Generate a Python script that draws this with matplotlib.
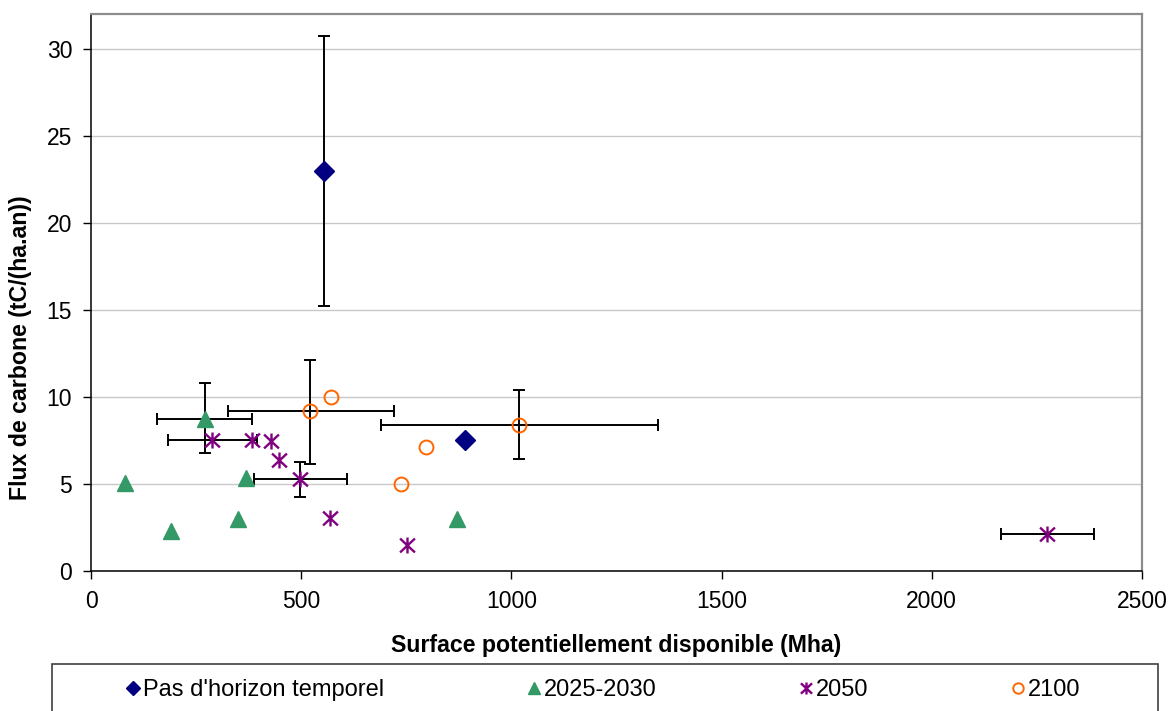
import matplotlib
matplotlib.use("Agg")
import matplotlib.pyplot as plt
import numpy as np
from matplotlib.path import Path
from matplotlib.patches import Rectangle

plt.rcParams.update({
    "font.family": ["Liberation Sans", "DejaVu Sans"],
    "font.size": 16,
})

# ---- data ----
none_x = [554, 889]
none_y = [22.97, 7.5]

y2030_x = [82, 190, 270, 350, 368, 870]
y2030_y = [5.07, 2.3, 8.76, 2.97, 5.35, 2.97]

y2050_x = [289, 384, 427, 447, 497, 568, 751, 2274]
y2050_y = [7.52, 7.5, 7.48, 6.39, 5.28, 3.02, 1.49, 2.12]

y2100_x = [521, 570, 738, 796, 1019]
y2100_y = [9.18, 10.0, 5.01, 7.15, 8.4]

# error bars: centre, low, high (nan = no bar in that direction)
err_x = [554, 270, 289, 497, 521, 1019, 2274]
err_y = [22.97, 8.76, 7.52, 5.28, 9.18, 8.4, 2.12]
err_xlo = [np.nan, 157, 183, 387, 325, 690, 2164]
err_xhi = [np.nan, 383, 395, 610, 720, 1349, 2386]
err_ylo = [15.24, 6.79, np.nan, 4.26, 6.16, 6.41, np.nan]
err_yhi = [30.72, 10.8, np.nan, 6.27, 12.15, 10.38, np.nan]

labels = ["Pas d'horizon temporel", "2025-2030", "2050", "2100"]

# asterisk-like star marker (vertical stroke + X)
c, s = 0.93, 0.87
star = Path([(0, -1), (0, 1), (-c, -s), (c, s), (-c, s), (c, -s)],
            [Path.MOVETO, Path.LINETO, Path.MOVETO, Path.LINETO,
             Path.MOVETO, Path.LINETO])

fig = plt.figure(figsize=(11.71, 7.11), dpi=100)
ax = fig.add_axes([91 / 1171, 1 - 571 / 711, (1142 - 91) / 1171, (571 - 14) / 711])

for x, y, xl, xh, yl, yh in zip(err_x, err_y, err_xlo, err_xhi, err_ylo, err_yhi):
    xe = None if np.isnan(xl) else [[x - xl], [xh - x]]
    ye = None if np.isnan(yl) else [[y - yl], [yh - y]]
    ax.errorbar([x], [y], xerr=xe, yerr=ye, fmt="none", ecolor="black",
                elinewidth=1.4, capsize=4.3, capthick=1.4, zorder=2)

ax.plot(none_x, none_y, ls="none", marker="D", ms=10, color="#000080",
        label=labels[0], zorder=3)
ax.plot(y2030_x, y2030_y, ls="none", marker="^", ms=11, color="#339966",
        label=labels[1], zorder=3)
ax.plot(y2050_x, y2050_y, ls="none", marker=star, ms=11.5, mew=1.7,
        color="#800080", mfc="none", label=labels[2], zorder=3)
ax.plot(y2100_x, y2100_y, ls="none", marker="o", ms=10, mew=1.4,
        color="#FF6600", mfc="none", label=labels[3], zorder=3)

ax.set_xlim(0, 2500)
ax.set_ylim(0, 32)
ax.set_xticks(np.arange(0, 2501, 500))
ax.set_yticks(np.arange(0, 31, 5))
ax.grid(axis="y", color="#c8c8c8", linewidth=1)
ax.set_axisbelow(True)
ax.tick_params(direction="out", length=5.5, width=1, labelsize=16.5, pad=8)

for side in ["left", "bottom"]:
    ax.spines[side].set_color("black")
    ax.spines[side].set_linewidth(1.1)
for side in ["top", "right"]:
    ax.spines[side].set_color("#8c8c8c")
    ax.spines[side].set_linewidth(1.6)

ax.set_xlabel("Surface potentiellement disponible (Mha)", fontsize=16.7,
              fontweight="bold", labelpad=15)
# y label sits lower than the plot centre in the reference
fig.text(21 / 1171, 1 - 348 / 711, "Flux de carbone (tC/(ha.an))",
         fontsize=16.7, fontweight="bold", rotation=90,
         ha="center", va="center")

# legend box (cut off at the bottom edge, as in the reference)
fig.patches.append(Rectangle((52 / 1171, -0.05), (1158 - 52) / 1171,
                             (711 - 664) / 711 + 0.05, transform=fig.transFigure,
                             fill=False, edgecolor="#404040", linewidth=1.2))
fig.legend(loc="center left", bbox_to_anchor=(112 / 1171, 1 - 690 / 711),
           ncol=4, frameon=False, fontsize=17, markerscale=0.75,
           handlelength=0.8, handletextpad=0.0, columnspacing=5.96,
           borderpad=0)

fig.savefig("out.png", dpi=100)
